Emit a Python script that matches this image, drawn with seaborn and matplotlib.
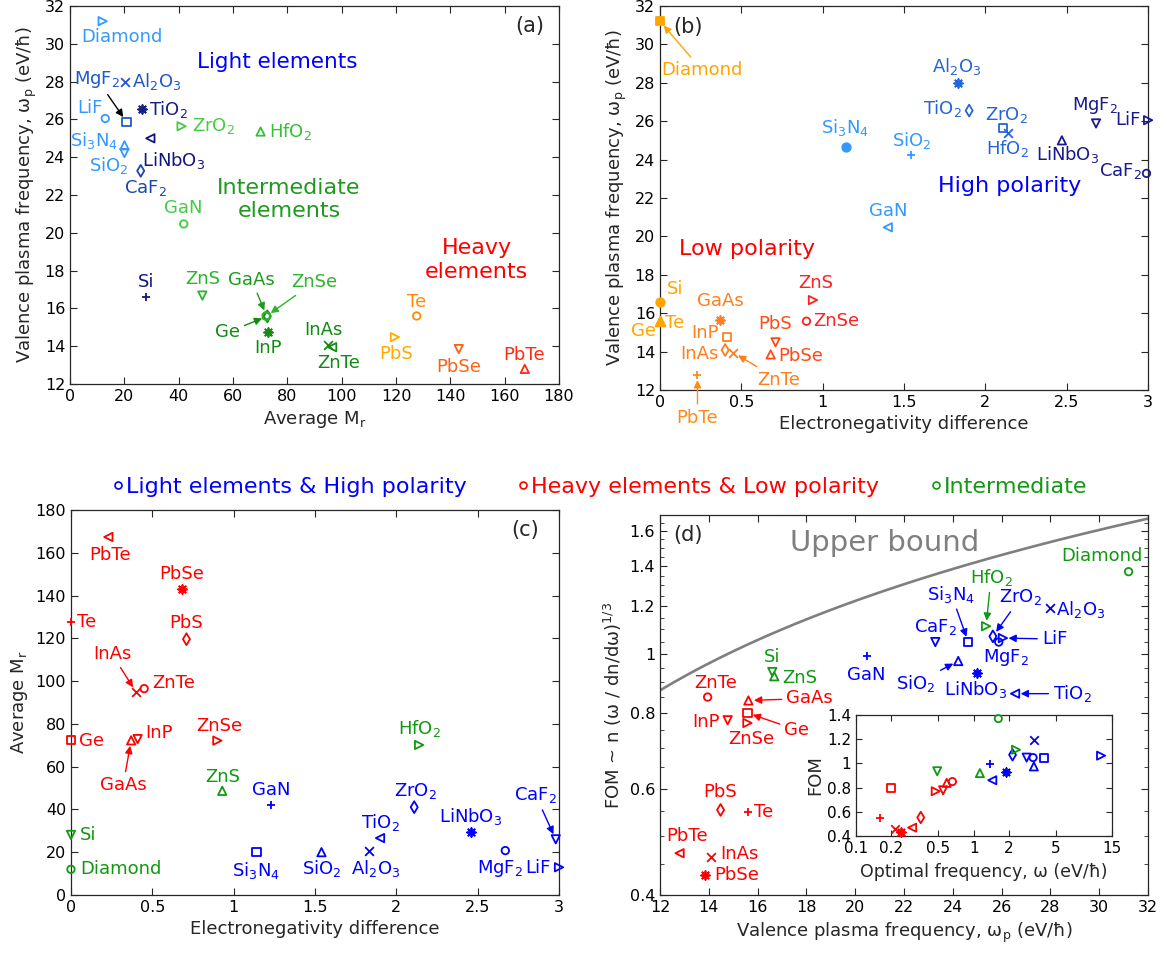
import numpy as np
import pandas as pd
import matplotlib
matplotlib.use("Agg")
import matplotlib.pyplot as plt
from matplotlib.lines import Line2D
import seaborn as sns

# ---------------- data ----------------
materials = ["Diamond", "Si", "Ge", "Te", "GaAs", "InP", "InAs", "ZnTe", "ZnSe", "ZnS",
             "PbS", "PbSe", "PbTe", "GaN", "Si3N4", "SiO2", "Al2O3", "TiO2", "ZrO2",
             "HfO2", "LiNbO3", "MgF2", "LiF", "CaF2"]
tex_names = ["Diamond", "Si", "Ge", "Te", "GaAs", "InP", "InAs", "ZnTe", "ZnSe", "ZnS",
             "PbS", "PbSe", "PbTe", "GaN", "Si$_3$N$_4$", "SiO$_2$", "Al$_2$O$_3$", "TiO$_2$",
             "ZrO$_2$", "HfO$_2$", "LiNbO$_3$", "MgF$_2$", "LiF", "CaF$_2$"]
avg_mr = [12.01, 28.09, 72.63, 127.6, 72.32, 72.9, 94.87, 96.5, 72.17, 48.72,
          119.6, 143.1, 167.4, 41.86, 20.04, 20.03, 20.39, 26.62, 41.07,
          70.16, 29.57, 20.77, 12.97, 26.03]
omega_p = [31.2, 16.6, 15.58, 15.6, 15.62, 14.77, 14.08, 13.95, 15.58, 16.68,
           14.48, 13.85, 12.8, 20.47, 24.63, 24.22, 28.0, 26.55, 25.64,
           25.36, 25.0, 25.88, 26.05, 23.28]
en_diff = [0.0, 0.0, 0.0, 0.0, 0.37, 0.41, 0.40, 0.45, 0.90, 0.93,
           0.71, 0.68, 0.23, 1.23, 1.14, 1.54, 1.83, 1.90, 2.11,
           2.14, 2.46, 2.67, 3.00, 2.98]
en_diff_b = [0.0, 0.0, 0.0, 0.0, 0.37, 0.41, 0.40, 0.45, 0.90, 0.94,
             0.71, 0.68, 0.23, 1.40, 1.14, 1.54, 1.83, 1.90, 2.11,
             2.14, 2.47, 2.68, 3.00, 2.99]
fom = [1.37, 0.935, 0.80, 0.548, 0.839, 0.778, 0.462, 0.85, 0.77, 0.92,
       0.553, 0.431, 0.469, 0.994, 1.048, 0.975, 1.195, 0.861, 1.071,
       1.113, 0.931, 1.048, 1.064, 1.048]
opt_freq = [1.62, 0.49, 0.20, 0.16, 0.59, 0.55, 0.215, 0.66, 0.476, 1.13,
            0.355, 0.24, 0.30, 1.38, 3.96, 3.25, 3.25, 1.44, 2.14,
            2.29, 1.88, 3.20, 12.1, 2.82]
group = ["I", "I", "H", "H", "H", "H", "H", "H", "H", "I",
         "H", "H", "H", "L", "L", "L", "L", "L", "L",
         "I", "L", "L", "L", "L"]
legend_labels = ["Light elements & High polarity", "Heavy elements & Low polarity", "Intermediate"]
bound_coeff = 0.872      # upper bound FOM at omega_p = 12
bound_exponent = 2.0 / 3.0

# ---------------- styles ----------------
marker_a = [">", "+", "d", "o", "o", "*", "x", "<", "h", "v",
            ">", "v", "^", "o", "^", "v", "x", "*", ">",
            "^", "<", "s", "o", "d"]
color_a = ["#3399ff", "#15157f", "#138a13", "#ff8c00", "#1f9a1f", "#138a13", "#138a13", "#138a13",
           "#2db52d", "#2db52d", "#ffaa00", "#ff6010", "#ff2a10", "#44cc44", "#3399ff", "#3399ff",
           "#2058cc", "#15207f", "#44cc44", "#35c035", "#15157f", "#2058cc", "#3399ff", "#1e45a8"]
marker_b = ["s", "o", "^", "^", "*", "s", "d", "x", "o", ">",
            "v", "^", "+", "<", "o", "+", "*", "d", "s",
            "x", "^", "v", ">", "o"]
filled_b = ["Diamond", "Si", "Ge", "Te", "Si3N4"]
color_b = ["#ffa500", "#ffa500", "#ffa500", "#ffa500", "#ff7f1e", "#ff7f1e", "#ff7f1e", "#ff7f1e",
           "#ff2020", "#ff2020", "#ff4a14", "#ff4a14", "#ff8c1a", "#3399ff", "#3399ff", "#3399ff",
           "#2565d5", "#2565d5", "#2565d5", "#2565d5", "#1a1a8c", "#1a1a8c", "#1a1a8c", "#1a1a8c"]
marker_cd = ["o", "v", "s", "+", "^", "v", "x", "o", ">", "^",
             "d", "*", "<", "+", "s", "^", "x", "<", "d",
             ">", "*", "o", ">", "v"]
group_color = {"L": "#0000ff", "H": "#ff0000", "I": "#119911"}

# label offsets in pixels: (dx, dy, ha, arrow_color or None)
lab_a = {
    "Diamond": (19, -16, "center", None), "Al2O3": (7, 0, "left", None),
    "MgF2": (-6, 42, "right", "black"), "TiO2": (7, 0, "left", None),
    "LiF": (-15, 10, "center", None), "Si3N4": (-6, 5, "right", None),
    "SiO2": (-16, -12, "center", None), "LiNbO3": (23, -22, "center", None),
    "CaF2": (5, -17, "center", None), "ZrO2": (10, 0, "left", None),
    "HfO2": (8, 0, "left", None), "GaN": (0, 16, "center", None),
    "Si": (0, 15, "center", None), "ZnS": (0, 17, "center", None),
    "GaAs": (-15, 36, "center", "#1f9a1f"), "ZnSe": (48, 34, "center", "#2db52d"),
    "Ge": (-40, -16, "center", "#138a13"), "InP": (0, -16, "center", None),
    "InAs": (-4, 15, "center", None), "ZnTe": (7, -16, "center", None),
    "Te": (0, 14, "center", None), "PbS": (1, -17, "center", None),
    "PbSe": (0, -18, "center", None), "PbTe": (-1, 14, "center", None),
}
lab_b = {
    "Diamond": (42, -49, "center", "#ffa500"), "Si3N4": (0, 20, "center", None),
    "SiO2": (1, 15, "center", None), "Al2O3": (-1, 16, "center", None),
    "TiO2": (-7, 2, "right", None), "ZrO2": (3, 13, "center", None),
    "HfO2": (-1, -15, "center", None), "LiNbO3": (6, -14, "center", None),
    "MgF2": (-1, 18, "center", None), "LiF": (-7, 0, "right", None),
    "CaF2": (-5, 2, "right", None), "GaN": (0, 16, "center", None),
    "Si": (7, 13, "left", None), "Ge": (-4, -10, "right", None),
    "Te": (5, -2, "left", None), "GaAs": (0, 19, "center", None),
    "InP": (-8, 4, "right", None), "InAs": (-7, -4, "right", None),
    "ZnTe": (45, -27, "center", "#ff7f1e"), "PbTe": (0, -43, "center", "#ff8c1a"),
    "PbS": (0, 18, "center", None), "PbSe": (8, -2, "left", None),
    "ZnS": (3, 17, "center", None), "ZnSe": (7, 0, "left", None),
}
lab_c = {
    "PbTe": (2, -18, "center", None), "PbSe": (0, 15, "center", None),
    "Te": (6, 0, "left", None), "PbS": (0, 16, "center", None),
    "InAs": (-24, 38, "center", "#ff0000"), "ZnTe": (8, 6, "left", None),
    "Ge": (8, -1, "left", None), "GaAs": (-8, -45, "center", "#ff0000"),
    "InP": (8, 6, "left", None), "ZnSe": (2, 15, "center", None),
    "ZnS": (1, 14, "center", None), "GaN": (0, 15, "center", None),
    "Si": (9, 0, "left", None), "Diamond": (9, 0, "left", None),
    "Si3N4": (0, -18, "center", None), "SiO2": (0, -16, "center", None),
    "HfO2": (0, 16, "center", None), "ZrO2": (1, 16, "center", None),
    "TiO2": (0, 16, "center", None), "Al2O3": (7, -17, "center", None),
    "LiNbO3": (-1, 15, "center", None), "MgF2": (-5, -18, "center", None),
    "LiF": (-8, -1, "right", None), "CaF2": (-20, 44, "center", "#0000ff"),
}
lab_d = {
    "Diamond": (-27, 16, "center", None), "HfO2": (5, 49, "center", "#119911"),
    "ZrO2": (28, 39, "center", "#0000ff"), "MgF2": (7, -15, "center", None),
    "LiF": (39, -1, "left", "#0000ff"), "Al2O3": (6, -2, "left", None),
    "Si3N4": (-17, 48, "center", "#0000ff"), "CaF2": (0, 15, "center", None),
    "SiO2": (-42, -22, "center", "#0000ff"), "LiNbO3": (-2, -16, "center", None),
    "TiO2": (38, 0, "left", "#0000ff"), "GaN": (0, -19, "center", None),
    "Si": (0, 15, "center", None), "ZnS": (8, -2, "left", None),
    "ZnTe": (8, 14, "center", None), "GaAs": (38, 2, "left", "#ff0000"),
    "Ge": (37, -17, "left", "#ff0000"), "ZnSe": (4, -16, "center", None),
    "InP": (-8, -2, "right", None), "PbS": (0, 18, "center", None),
    "Te": (6, 0, "left", None), "PbTe": (7, 17, "center", None),
    "InAs": (9, 3, "left", None), "PbSe": (9, 0, "left", None),
}

# ---------------- theme ----------------
sns.set_style("ticks")
plt.rcParams.update({
    "font.family": ["DejaVu Sans"],
    "mathtext.default": "regular",
    "xtick.direction": "in", "ytick.direction": "in",
    "xtick.top": True, "ytick.right": True,
    "xtick.major.size": 5, "ytick.major.size": 5,
    "xtick.minor.size": 3, "ytick.minor.size": 3,
    "xtick.major.width": 0.8, "ytick.major.width": 0.8,
    "xtick.labelsize": 11.5, "ytick.labelsize": 11.5,
    "axes.edgecolor": "#262626", "axes.linewidth": 0.9,
    "xtick.color": "#262626", "ytick.color": "#262626",
    "xtick.labelcolor": "black", "ytick.labelcolor": "black",
    "axes.labelsize": 13,
})

W, H = 1167, 956
fig = plt.figure(figsize=(W / 100, H / 100), dpi=100)
ax_a = fig.add_axes([0.0600, 0.5983, 0.4190, 0.3954])
ax_b = fig.add_axes([0.5656, 0.5921, 0.4182, 0.4017])
ax_c = fig.add_axes([0.0608, 0.0638, 0.4182, 0.4027])
ax_d = fig.add_axes([0.5656, 0.0638, 0.4182, 0.3975])
ax_i = fig.add_axes([0.7335, 0.1255, 0.2194, 0.1266])
ax_i.set_zorder(5)

AST = (8, 2, 0)
LINE = ("+", "x", "*")


def draw_point(ax, x, y, m, color, filled=False, s=36, lw=1.3):
    marker = AST if m == "*" else m
    if m == "o":
        s = s * 0.8
    common = dict(ax=ax, marker=marker, linewidth=lw, legend=False, zorder=3, clip_on=False)
    if m in LINE:
        sns.scatterplot(x=[x], y=[y], color=color, s=s * 1.1, **common)
    elif filled:
        fs = s * 0.75 if m == "s" else s * 1.3
        sns.scatterplot(x=[x], y=[y], color=color, edgecolor=color, s=fs, **common)
    else:
        sns.scatterplot(x=[x], y=[y], facecolors="none", edgecolor=color, s=s, **common)


def label(ax, x, y, text, spec, color, fs=13):
    dx, dy, ha, arrow = spec
    kw = dict(xy=(x, y), xytext=(dx, dy), textcoords="offset pixels",
              ha=ha, va="center", color=color, fontsize=fs, zorder=4,
              annotation_clip=False)
    if arrow is not None:
        kw["arrowprops"] = dict(arrowstyle="-|>", color=arrow, lw=1.0,
                                mutation_scale=11, shrinkA=1, shrinkB=4)
    ax.annotate(text, **kw)


df = pd.DataFrame({"material": materials, "name": tex_names, "mr": avg_mr, "wp": omega_p,
                   "en": en_diff, "en_b": en_diff_b, "fom": fom, "wopt": opt_freq,
                   "group": group})

for i, r in df.iterrows():
    gcol = group_color[r["group"]]
    # (a)
    draw_point(ax_a, r["mr"], r["wp"], marker_a[i], color_a[i])
    label(ax_a, r["mr"], r["wp"], r["name"], lab_a[r["material"]], color_a[i])
    # (b)
    draw_point(ax_b, r["en_b"], r["wp"], marker_b[i], color_b[i],
               filled=r["material"] in filled_b)
    label(ax_b, r["en_b"], r["wp"], r["name"], lab_b[r["material"]], color_b[i])
    # (c)
    draw_point(ax_c, r["en"], r["mr"], marker_cd[i], gcol)
    label(ax_c, r["en"], r["mr"], r["name"], lab_c[r["material"]], gcol)
    # (d)
    draw_point(ax_d, r["wp"], r["fom"], marker_cd[i], gcol)
    label(ax_d, r["wp"], r["fom"], r["name"], lab_d[r["material"]], gcol)
    # inset
    draw_point(ax_i, r["wopt"], r["fom"], marker_cd[i], gcol, s=34)

# upper bound curve
wp_grid = np.linspace(12, 32, 200)
sns.lineplot(x=wp_grid, y=bound_coeff * (wp_grid / 12.0) ** bound_exponent, ax=ax_d,
             color="#7f7f7f", linewidth=1.9, zorder=2)

# ---------------- axes formatting ----------------
wp_label = "Valence plasma frequency, ω$_p$ (eV/ħ)"
en_label = "Electronegativity difference"
mr_label = "Average M$_r$"

ax_a.set_xlim(0, 180); ax_a.set_ylim(12, 32)
ax_a.set_xticks(np.arange(0, 181, 20)); ax_a.set_yticks(np.arange(12, 33, 2))
ax_a.set_xlabel(mr_label); ax_a.set_ylabel(wp_label)

ax_b.set_xlim(0, 3); ax_b.set_ylim(12, 32)
ax_b.set_xticks([0, 0.5, 1, 1.5, 2, 2.5, 3]); ax_b.set_xticklabels(["0", "0.5", "1", "1.5", "2", "2.5", "3"])
ax_b.set_yticks(np.arange(12, 33, 2))
ax_b.set_xlabel(en_label); ax_b.set_ylabel(wp_label)

ax_c.set_xlim(0, 3); ax_c.set_ylim(0, 180)
ax_c.set_xticks([0, 0.5, 1, 1.5, 2, 2.5, 3]); ax_c.set_xticklabels(["0", "0.5", "1", "1.5", "2", "2.5", "3"])
ax_c.set_yticks(np.arange(0, 181, 20))
ax_c.set_xlabel(en_label); ax_c.set_ylabel(mr_label)

ax_d.set_yscale("log")
ax_d.set_xlim(12, 32); ax_d.set_ylim(0.4, 1.7)
ax_d.set_xticks(np.arange(12, 33, 2))
ax_d.set_yticks([0.4, 0.6, 0.8, 1, 1.2, 1.4, 1.6])
ax_d.set_yticklabels(["0.4", "0.6", "0.8", "1", "1.2", "1.4", "1.6"])
ax_d.set_yticks([v for v in np.arange(0.45, 1.70, 0.05) if round(v, 2) not in (0.6, 0.8, 1.0, 1.2, 1.4, 1.6)],
                minor=True)
ax_d.yaxis.set_minor_formatter(matplotlib.ticker.NullFormatter())
ax_d.set_xlabel(wp_label); ax_d.set_ylabel("FOM ~ n (ω / dn/dω)$^{1/3}$")

ax_i.set_xscale("log")
ax_i.set_xlim(0.1, 15); ax_i.set_ylim(0.4, 1.4)
ax_i.set_xticks([0.1, 0.2, 0.5, 1, 2, 5, 15])
ax_i.set_xticklabels(["0.1", "0.2", "0.5", "1", "2", "5", "15"])
ax_i.xaxis.set_minor_locator(matplotlib.ticker.NullLocator())
ax_i.set_yticks([0.4, 0.6, 0.8, 1, 1.2, 1.4])
ax_i.set_yticklabels(["0.4", "0.6", "0.8", "1", "1.2", "1.4"])
ax_i.tick_params(labelsize=11, length=4)
ax_i.set_xlabel("Optimal frequency, ω (eV/ħ)", fontsize=12.5, labelpad=5)
ax_i.set_ylabel("FOM", fontsize=13, labelpad=2)
ax_i.set_facecolor("white")

for ax in (ax_a, ax_b, ax_c, ax_d):
    ax.tick_params(which="both", direction="in", top=True, right=True)

# ---------------- panel texts ----------------
ax_a.text(0.941, 0.947, "(a)", transform=ax_a.transAxes, ha="center", va="center", fontsize=15)
ax_b.text(0.057, 0.946, "(b)", transform=ax_b.transAxes, ha="center", va="center", fontsize=15)
ax_c.text(0.930, 0.948, "(c)", transform=ax_c.transAxes, ha="center", va="center", fontsize=15)
ax_d.text(0.057, 0.947, "(d)", transform=ax_d.transAxes, ha="center", va="center", fontsize=15)

ax_a.text(0.423, 0.852, "Light elements", transform=ax_a.transAxes, ha="center", va="center",
          fontsize=15.5, color="#0000ff")
ax_a.text(0.448, 0.489, "Intermediate\nelements", transform=ax_a.transAxes, ha="center", va="center",
          fontsize=16, color="#1f9a1f", linespacing=1.2)
ax_a.text(0.832, 0.328, "Heavy\nelements", transform=ax_a.transAxes, ha="center", va="center",
          fontsize=16, color="#ff0000", linespacing=1.2)
ax_b.text(0.717, 0.53, "High polarity", transform=ax_b.transAxes, ha="center", va="center",
          fontsize=16, color="#0000ff")
ax_b.text(0.178, 0.367, "Low polarity", transform=ax_b.transAxes, ha="center", va="center",
          fontsize=16, color="#ff0000")
ax_d.text(0.461, 0.926, "Upper bound", transform=ax_d.transAxes, ha="center", va="center",
          fontsize=21, color="#7f7f7f")

# ---------------- legend ----------------
handles = [Line2D([], [], marker="o", linestyle="none", markerfacecolor="none",
                  markeredgecolor=group_color[g], markersize=5, markeredgewidth=1.2)
           for g in ("L", "H", "I")]
fig.legend(handles, legend_labels, loc="center", bbox_to_anchor=(0.514, 0.4906), ncol=3,
           frameon=False, fontsize=16, handletextpad=0.1, columnspacing=2.3,
           handlelength=0.5, labelcolor=[group_color[g] for g in ("L", "H", "I")])

fig.savefig("out.png", dpi=100)
